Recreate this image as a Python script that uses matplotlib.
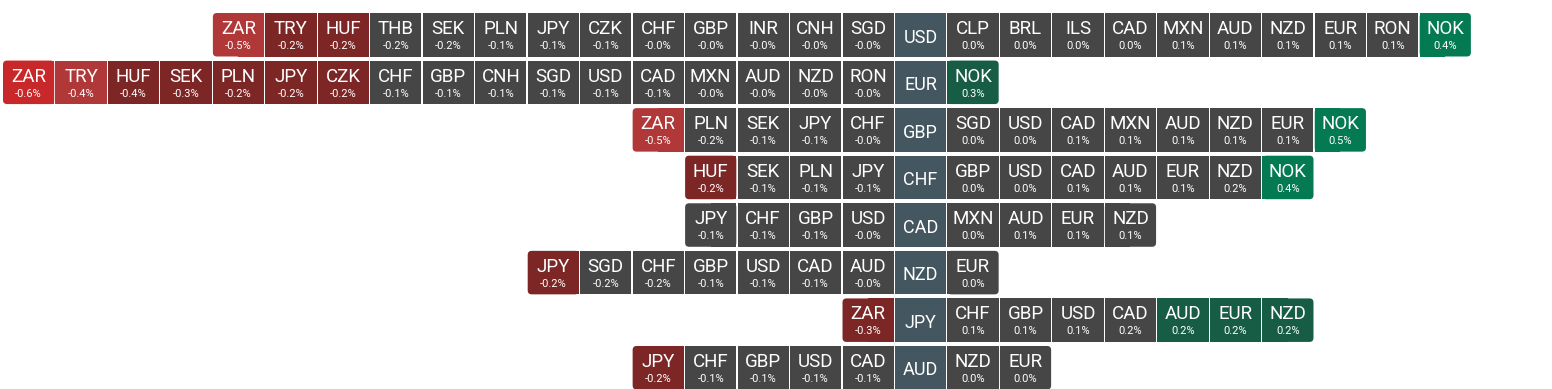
import matplotlib.pyplot as plt
from matplotlib.patches import Rectangle, FancyBboxPatch

# base currencies, one row each
bases = ['USD', 'EUR', 'GBP', 'CHF', 'CAD', 'NZD', 'JPY', 'AUD']

# moves against each base (sorted, negatives sit left of the base)
usd_codes = ['ZAR', 'TRY', 'HUF', 'THB', 'SEK', 'PLN', 'JPY', 'CZK', 'CHF', 'GBP', 'INR', 'CNH', 'SGD',
             'CLP', 'BRL', 'ILS', 'CAD', 'MXN', 'AUD', 'NZD', 'EUR', 'RON', 'NOK']
usd_moves = [-0.48, -0.24, -0.21, -0.18, -0.17, -0.12, -0.11, -0.09, -0.04, -0.03, -0.03, -0.02, -0.01,
             0.01, 0.02, 0.03, 0.04, 0.06, 0.07, 0.08, 0.09, 0.1, 0.42]
eur_codes = ['ZAR', 'TRY', 'HUF', 'SEK', 'PLN', 'JPY', 'CZK', 'CHF', 'GBP', 'CNH', 'SGD', 'USD', 'CAD',
             'MXN', 'AUD', 'NZD', 'RON', 'NOK']
eur_moves = [-0.6, -0.43, -0.38, -0.3, -0.24, -0.22, -0.21, -0.14, -0.13, -0.11, -0.1, -0.09, -0.08,
             -0.04, -0.03, -0.02, -0.01, 0.31]
gbp_codes = ['ZAR', 'PLN', 'SEK', 'JPY', 'CHF', 'SGD', 'USD', 'CAD', 'MXN', 'AUD', 'NZD', 'EUR', 'NOK']
gbp_moves = [-0.5, -0.17, -0.13, -0.09, -0.03, 0.01, 0.03, 0.06, 0.07, 0.08, 0.1, 0.12, 0.5]
chf_codes = ['HUF', 'SEK', 'PLN', 'JPY', 'GBP', 'USD', 'CAD', 'AUD', 'EUR', 'NZD', 'NOK']
chf_moves = [-0.22, -0.14, -0.12, -0.08, 0.02, 0.04, 0.07, 0.09, 0.11, 0.17, 0.4]
cad_codes = ['JPY', 'CHF', 'GBP', 'USD', 'MXN', 'AUD', 'EUR', 'NZD']
cad_moves = [-0.12, -0.1, -0.07, -0.04, 0.02, 0.06, 0.08, 0.11]
nzd_codes = ['JPY', 'SGD', 'CHF', 'GBP', 'USD', 'CAD', 'AUD', 'EUR']
nzd_moves = [-0.23, -0.19, -0.17, -0.12, -0.1, -0.08, -0.04, 0.01]
jpy_codes = ['ZAR', 'CHF', 'GBP', 'USD', 'CAD', 'AUD', 'EUR', 'NZD']
jpy_moves = [-0.28, 0.09, 0.11, 0.13, 0.17, 0.21, 0.22, 0.24]
aud_codes = ['JPY', 'CHF', 'GBP', 'USD', 'CAD', 'NZD', 'EUR']
aud_moves = [-0.22, -0.13, -0.11, -0.1, -0.07, 0.02, 0.04]

all_codes = [usd_codes, eur_codes, gbp_codes, chf_codes, cad_codes, nzd_codes, jpy_codes, aud_codes]
all_moves = [usd_moves, eur_moves, gbp_moves, chf_moves, cad_moves, nzd_moves, jpy_moves, aud_moves]


def cell_color(v):
    if v <= -0.55:
        return '#c9282a'
    if v <= -0.4:
        return '#b03838'
    if v <= -0.2:
        return '#7c2726'
    if v >= 0.35:
        return '#047a52'
    if v >= 0.2:
        return '#175c44'
    return '#464646'


fig = plt.figure(figsize=(15.52, 3.89), dpi=100)
ax = fig.add_axes([0, 0, 1, 1])
ax.set_xlim(0, 1552)
ax.set_ylim(389, 0)
ax.axis('off')

x0, pitch_x, w = 3, 52.47, 51.2
y0, pitch_y, h = 13, 47.57, 43.5
base_col = 17
font = 'Roboto'


def draw_cell(x, y, color, round_left=False, round_right=False):
    if round_left or round_right:
        ax.add_patch(FancyBboxPatch((x, y), w, h, boxstyle='round,pad=0,rounding_size=4',
                                    fc=color, ec='none'))
        # square off the inner side
        if round_left:
            ax.add_patch(Rectangle((x + w / 2, y), w / 2, h, fc=color, ec='none'))
        else:
            ax.add_patch(Rectangle((x, y), w / 2, h, fc=color, ec='none'))
    else:
        ax.add_patch(Rectangle((x, y), w, h, fc=color, ec='none'))


for r, base in enumerate(bases):
    codes = all_codes[r]
    moves = all_moves[r]
    y = y0 + r * pitch_y
    n_left = sum(1 for v in moves if v < 0)
    # base cell
    bx = x0 + base_col * pitch_x
    draw_cell(bx, y, '#44565f')
    ax.text(bx + w / 2, y + 24.5, base, color='white', fontsize=13, family=font,
            ha='center', va='center')
    for i, (code, v) in enumerate(zip(codes, moves)):
        if i < n_left:
            col = base_col - n_left + i
        else:
            col = base_col + 1 + (i - n_left)
        x = x0 + col * pitch_x
        draw_cell(x, y, cell_color(v), round_left=(i == 0), round_right=(i == len(codes) - 1))
        ax.text(x + w / 2, y + 16, code, color='white', fontsize=13.5, family=font,
                ha='center', va='center')
        ax.text(x + w / 2, y + 33, f'{v:.1f}%', color='white', fontsize=8, family=font,
                ha='center', va='center')

plt.savefig('out.png', dpi=100)
